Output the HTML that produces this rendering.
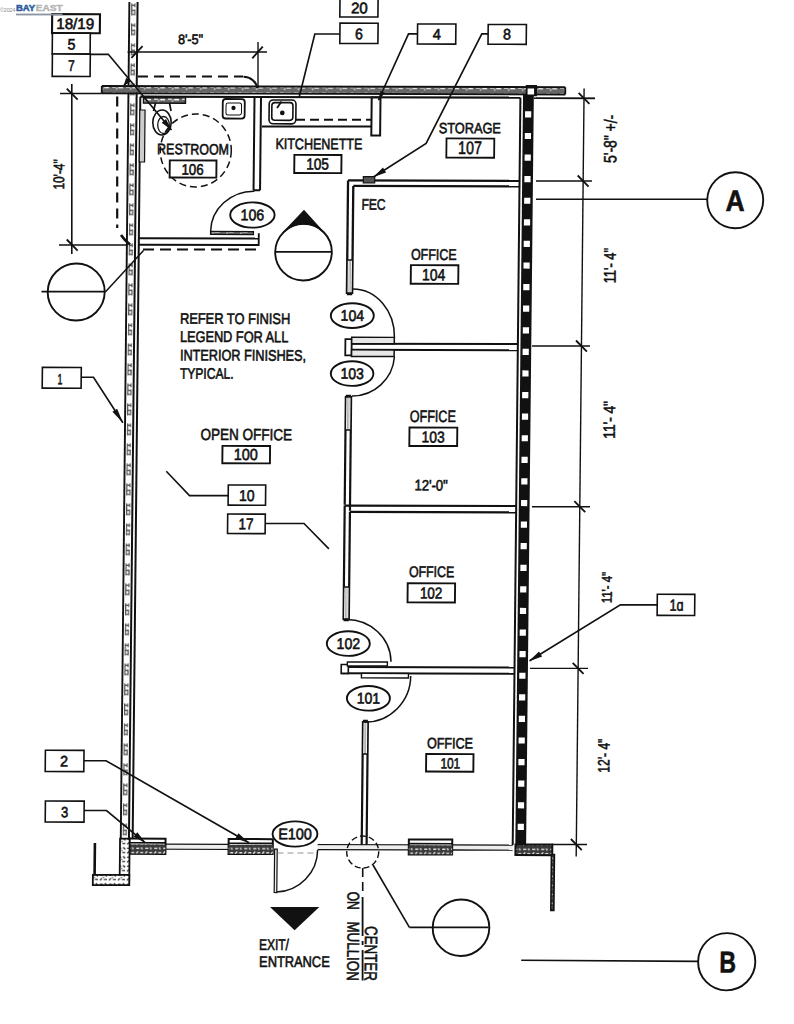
<!DOCTYPE html>
<html><head><meta charset="utf-8"><style>
html,body{margin:0;padding:0;background:#fff;}
svg{display:block;}
text{font-family:"Liberation Sans",sans-serif;}
</style></head><body>
<svg width="794" height="1024" viewBox="0 0 794 1024" font-family="Liberation Sans, sans-serif">
<defs>
<pattern id="stud" x="130.4" y="0" width="6.2" height="20" patternUnits="userSpaceOnUse"><rect width="6.2" height="20" fill="#fff"/><path d="M1.5 3v12M4.5 3v4M4.5 9v6M1.5 5h3M1.5 10h3M1.5 14h3" stroke="#555" stroke-width="1.2" fill="none"/></pattern>
<pattern id="band" width="14" height="6" patternUnits="userSpaceOnUse"><rect width="14" height="6" fill="#666"/><path d="M1 2.5h4M7 3h5M5 4.5h1" stroke="#fff" stroke-width="1.6" fill="none"/></pattern>
<pattern id="conc" width="9" height="9" patternUnits="userSpaceOnUse"><rect width="9" height="9" fill="#3a3a3a"/><path d="M1 2h3M5 6h3M1 7l2-2M6 1l1 2" stroke="#e8e8e8" stroke-width="1.3" fill="none"/></pattern>
<pattern id="conc2" width="9" height="9" patternUnits="userSpaceOnUse"><rect width="9" height="9" fill="#fff"/><path d="M1 2h3M5 6h3M1 7l2-2M6 1l2 2M4 4h1" stroke="#333" stroke-width="1.4" fill="none"/></pattern>
</defs>
<rect width="794" height="1024" fill="#fff"/>
<g transform="matrix(1 0.0027 -0.0103 1 0 0)">
<rect x="130.2" y="1.7" width="6.5" height="883" fill="url(#stud)" stroke="none" stroke-width="0" />
<line x1="129.4" y1="1.7" x2="129.4" y2="884.7" stroke="#111" stroke-width="1.9" />
<line x1="137.6" y1="1.7" x2="137.6" y2="838.5" stroke="#111" stroke-width="2.0" />
<line x1="141.3" y1="96.4" x2="141.3" y2="838.5" stroke="#111" stroke-width="2.0" />
<rect x="102.7" y="86.5" width="463.5" height="5.6" fill="url(#band)" stroke="none" stroke-width="0" />
<line x1="102.7" y1="85.7" x2="566.2" y2="85.7" stroke="#111" stroke-width="2.0" />
<line x1="102.7" y1="92.9" x2="566.2" y2="92.9" stroke="#111" stroke-width="1.9" />
<line x1="102.7" y1="85.7" x2="102.7" y2="92.9" stroke="#111" stroke-width="1.8" />
<line x1="566.2" y1="85.7" x2="566.2" y2="92.9" stroke="#111" stroke-width="1.8" />
<line x1="61" y1="93.3" x2="102.7" y2="93.3" stroke="#111" stroke-width="1.5" />
<line x1="141.3" y1="96.3" x2="521.4" y2="96.3" stroke="#111" stroke-width="2.2" />
<line x1="535" y1="96.8" x2="595.8" y2="96.8" stroke="#111" stroke-width="1.5" />
<rect x="524" y="93" width="10.8" height="750.5" fill="#111" stroke="none" stroke-width="0" />
<rect x="526.6" y="83.6" width="11.3" height="11.2" fill="#111" stroke="none" stroke-width="0" />
<line x1="521.4" y1="96.4" x2="521.4" y2="843.5" stroke="#111" stroke-width="2.0" />
<rect x="528.5" y="87.18" width="6.5" height="6" fill="#fff" stroke="none" stroke-width="0" />
<rect x="526.2" y="109.87" width="6.2" height="6.2" fill="#fff" stroke="none" stroke-width="0" />
<rect x="526.2" y="131.46" width="6.2" height="6.2" fill="#fff" stroke="none" stroke-width="0" />
<rect x="526.2" y="153.05" width="6.2" height="6.2" fill="#fff" stroke="none" stroke-width="0" />
<rect x="526.2" y="174.64" width="6.2" height="6.2" fill="#fff" stroke="none" stroke-width="0" />
<rect x="526.2" y="196.23" width="6.2" height="6.2" fill="#fff" stroke="none" stroke-width="0" />
<rect x="526.2" y="217.82" width="6.2" height="6.2" fill="#fff" stroke="none" stroke-width="0" />
<rect x="526.2" y="239.41" width="6.2" height="6.2" fill="#fff" stroke="none" stroke-width="0" />
<rect x="526.2" y="261" width="6.2" height="6.2" fill="#fff" stroke="none" stroke-width="0" />
<rect x="526.2" y="282.59" width="6.2" height="6.2" fill="#fff" stroke="none" stroke-width="0" />
<rect x="526.2" y="304.18" width="6.2" height="6.2" fill="#fff" stroke="none" stroke-width="0" />
<rect x="526.2" y="325.77" width="6.2" height="6.2" fill="#fff" stroke="none" stroke-width="0" />
<rect x="526.2" y="347.36" width="6.2" height="6.2" fill="#fff" stroke="none" stroke-width="0" />
<rect x="526.2" y="368.95" width="6.2" height="6.2" fill="#fff" stroke="none" stroke-width="0" />
<rect x="526.2" y="390.54" width="6.2" height="6.2" fill="#fff" stroke="none" stroke-width="0" />
<rect x="526.2" y="412.13" width="6.2" height="6.2" fill="#fff" stroke="none" stroke-width="0" />
<rect x="526.2" y="433.72" width="6.2" height="6.2" fill="#fff" stroke="none" stroke-width="0" />
<rect x="526.2" y="455.31" width="6.2" height="6.2" fill="#fff" stroke="none" stroke-width="0" />
<rect x="526.2" y="476.9" width="6.2" height="6.2" fill="#fff" stroke="none" stroke-width="0" />
<rect x="526.2" y="498.49" width="6.2" height="6.2" fill="#fff" stroke="none" stroke-width="0" />
<rect x="526.2" y="520.08" width="6.2" height="6.2" fill="#fff" stroke="none" stroke-width="0" />
<rect x="526.2" y="541.67" width="6.2" height="6.2" fill="#fff" stroke="none" stroke-width="0" />
<rect x="526.2" y="563.26" width="6.2" height="6.2" fill="#fff" stroke="none" stroke-width="0" />
<rect x="526.2" y="584.85" width="6.2" height="6.2" fill="#fff" stroke="none" stroke-width="0" />
<rect x="526.2" y="606.44" width="6.2" height="6.2" fill="#fff" stroke="none" stroke-width="0" />
<rect x="526.2" y="628.03" width="6.2" height="6.2" fill="#fff" stroke="none" stroke-width="0" />
<rect x="526.2" y="649.62" width="6.2" height="6.2" fill="#fff" stroke="none" stroke-width="0" />
<rect x="526.2" y="671.21" width="6.2" height="6.2" fill="#fff" stroke="none" stroke-width="0" />
<rect x="526.2" y="692.8" width="6.2" height="6.2" fill="#fff" stroke="none" stroke-width="0" />
<rect x="526.2" y="714.39" width="6.2" height="6.2" fill="#fff" stroke="none" stroke-width="0" />
<rect x="526.2" y="735.98" width="6.2" height="6.2" fill="#fff" stroke="none" stroke-width="0" />
<rect x="526.2" y="757.57" width="6.2" height="6.2" fill="#fff" stroke="none" stroke-width="0" />
<rect x="526.2" y="779.16" width="6.2" height="6.2" fill="#fff" stroke="none" stroke-width="0" />
<rect x="526.2" y="800.75" width="6.2" height="6.2" fill="#fff" stroke="none" stroke-width="0" />
<rect x="526.2" y="822.34" width="6.2" height="6.2" fill="#fff" stroke="none" stroke-width="0" />
<line x1="174.2" y1="843.8" x2="237.3" y2="843.8" stroke="#111" stroke-width="1.6" />
<line x1="174.2" y1="848.6" x2="237.3" y2="848.6" stroke="#111" stroke-width="1.6" />
<rect x="174.2" y="844.4" width="63.1" height="3.6" fill="#eee" stroke="none" stroke-width="0" />
<line x1="326.4" y1="843.8" x2="417.5" y2="843.8" stroke="#111" stroke-width="1.6" />
<line x1="326.4" y1="848.6" x2="417.5" y2="848.6" stroke="#111" stroke-width="1.6" />
<rect x="326.4" y="844.4" width="91.1" height="3.6" fill="#eee" stroke="none" stroke-width="0" />
<line x1="460.9" y1="843.8" x2="521.4" y2="843.8" stroke="#111" stroke-width="1.6" />
<line x1="460.9" y1="848.6" x2="521.4" y2="848.6" stroke="#111" stroke-width="1.6" />
<rect x="460.9" y="844.4" width="60.5" height="3.6" fill="#eee" stroke="none" stroke-width="0" />
<rect x="137.9" y="838.2" width="36.3" height="15.3" fill="#fff" stroke="#111" stroke-width="2.0" />
<rect x="137.9" y="843.8" width="36.3" height="9.7" fill="url(#conc)" stroke="none" stroke-width="0" />
<line x1="137.9" y1="842.4" x2="174.2" y2="842.4" stroke="#111" stroke-width="1.7" />
<rect x="237.3" y="838.4" width="44.2" height="14.9" fill="#fff" stroke="#111" stroke-width="2.0" />
<rect x="237.3" y="844" width="44.2" height="9.3" fill="url(#conc)" stroke="none" stroke-width="0" />
<line x1="237.3" y1="842.6" x2="281.5" y2="842.6" stroke="#111" stroke-width="1.7" />
<rect x="417.5" y="838.3" width="43.4" height="15" fill="#fff" stroke="#111" stroke-width="2.0" />
<rect x="417.5" y="843.9" width="43.4" height="9.4" fill="url(#conc)" stroke="none" stroke-width="0" />
<line x1="417.5" y1="842.5" x2="460.9" y2="842.5" stroke="#111" stroke-width="1.7" />
<rect x="524.2" y="843.1" width="36.8" height="10.6" fill="url(#conc)" stroke="#111" stroke-width="2.0" />
<rect x="560.2" y="853" width="3" height="56" fill="url(#conc)" stroke="#111" stroke-width="1.6" />
<rect x="128.7" y="838.2" width="9.6" height="46.5" fill="url(#conc2)" stroke="#111" stroke-width="1.8" />
<rect x="101.9" y="874.6" width="36.4" height="10.2" fill="url(#conc2)" stroke="#111" stroke-width="1.8" />
<line x1="103.6" y1="842.8" x2="103.6" y2="875" stroke="#111" stroke-width="2.6" />
<line x1="255.5" y1="96.4" x2="255.5" y2="189.5" stroke="#111" stroke-width="2.0" />
<line x1="262" y1="96.4" x2="262" y2="189.5" stroke="#111" stroke-width="2.0" />
<line x1="255.5" y1="189.5" x2="262" y2="189.5" stroke="#111" stroke-width="2.0" />
<line x1="141.3" y1="237.9" x2="261.2" y2="237.9" stroke="#111" stroke-width="2.0" />
<line x1="141.3" y1="244.4" x2="261.2" y2="244.4" stroke="#111" stroke-width="2.0" />
<line x1="261.2" y1="232.5" x2="261.2" y2="245.4" stroke="#111" stroke-width="1.8" />
<rect x="213" y="230.87" width="42.8" height="3" fill="url(#band)" stroke="#111" stroke-width="1.3" />
<path d="M212.98,230.93 A43,40.5 0 0 1 256.37,190.51" fill="none" stroke="#111" stroke-width="1.5"/>
<rect x="372.7" y="96.59" width="8.8" height="37.9" fill="#fff" stroke="#111" stroke-width="2.0" />
<line x1="349.9" y1="179.5" x2="521.4" y2="179.5" stroke="#111" stroke-width="2.3" />
<line x1="355.2" y1="185" x2="521.4" y2="185" stroke="#111" stroke-width="2.3" />
<line x1="349.9" y1="179.5" x2="349.9" y2="293" stroke="#111" stroke-width="2.3" />
<line x1="355.2" y1="185" x2="355.2" y2="293" stroke="#111" stroke-width="2.3" />
<line x1="349.9" y1="293" x2="355.2" y2="293" stroke="#111" stroke-width="2.6" />
<line x1="355.2" y1="342.7" x2="521.4" y2="342.7" stroke="#111" stroke-width="2.0" />
<line x1="355.2" y1="348.9" x2="521.4" y2="348.9" stroke="#111" stroke-width="2.0" />
<rect x="348.9" y="338.1" width="6.3" height="16.4" fill="#fff" stroke="#111" stroke-width="1.8" />
<rect x="355.2" y="336.3" width="42.6" height="6.4" fill="#e6e6e6" stroke="#111" stroke-width="1.5" />
<rect x="355.2" y="348.9" width="42.6" height="6.6" fill="#e6e6e6" stroke="#111" stroke-width="1.5" />
<line x1="349.9" y1="395" x2="349.9" y2="503.8" stroke="#111" stroke-width="2.2" />
<line x1="355.2" y1="395" x2="355.2" y2="509.8" stroke="#111" stroke-width="2.2" />
<line x1="349.9" y1="395" x2="355.2" y2="395" stroke="#111" stroke-width="2.6" />
<line x1="349.9" y1="504.6" x2="521.4" y2="504.6" stroke="#111" stroke-width="2.2" />
<line x1="355.2" y1="510.9" x2="521.4" y2="510.9" stroke="#111" stroke-width="2.2" />
<line x1="349.9" y1="504.6" x2="349.9" y2="619" stroke="#111" stroke-width="2.2" />
<line x1="355.2" y1="510.9" x2="355.2" y2="619" stroke="#111" stroke-width="2.2" />
<line x1="349.9" y1="619" x2="355.2" y2="619" stroke="#111" stroke-width="2.6" />
<line x1="355.2" y1="666" x2="521.4" y2="666" stroke="#111" stroke-width="2.0" />
<line x1="348.1" y1="672.4" x2="521.4" y2="672.4" stroke="#111" stroke-width="2.0" />
<rect x="348.1" y="663.5" width="7.1" height="8.9" fill="#fff" stroke="#111" stroke-width="1.6" />
<rect x="354.2" y="661" width="40" height="4" fill="#fff" stroke="#111" stroke-width="1.4" />
<rect x="368.4" y="672.4" width="47" height="4.5" fill="#fff" stroke="#111" stroke-width="1.4" />
<line x1="370.4" y1="720" x2="370.4" y2="843.8" stroke="#111" stroke-width="2.2" />
<line x1="375.3" y1="720" x2="375.3" y2="843.8" stroke="#111" stroke-width="2.2" />
<line x1="370.4" y1="720" x2="375.3" y2="720" stroke="#111" stroke-width="2.6" />
<rect x="350.5" y="259" width="4.1" height="33" fill="#fff" stroke="none" stroke-width="0" />
<line x1="351.9" y1="259" x2="351.9" y2="292" stroke="#999" stroke-width="0.8" />
<line x1="353.2" y1="259" x2="353.2" y2="292" stroke="#999" stroke-width="0.8" />
<line x1="349.9" y1="259" x2="355.2" y2="259" stroke="#111" stroke-width="1.6" />
<line x1="349.9" y1="292" x2="355.2" y2="292" stroke="#111" stroke-width="1.6" />
<rect x="350.5" y="396" width="4.1" height="33" fill="#fff" stroke="none" stroke-width="0" />
<line x1="351.9" y1="396" x2="351.9" y2="429" stroke="#999" stroke-width="0.8" />
<line x1="353.2" y1="396" x2="353.2" y2="429" stroke="#999" stroke-width="0.8" />
<line x1="349.9" y1="396" x2="355.2" y2="396" stroke="#111" stroke-width="1.6" />
<line x1="349.9" y1="429" x2="355.2" y2="429" stroke="#111" stroke-width="1.6" />
<rect x="350.5" y="586" width="4.1" height="32" fill="#fff" stroke="none" stroke-width="0" />
<line x1="351.9" y1="586" x2="351.9" y2="618" stroke="#999" stroke-width="0.8" />
<line x1="353.2" y1="586" x2="353.2" y2="618" stroke="#999" stroke-width="0.8" />
<line x1="349.9" y1="586" x2="355.2" y2="586" stroke="#111" stroke-width="1.6" />
<line x1="349.9" y1="618" x2="355.2" y2="618" stroke="#111" stroke-width="1.6" />
<rect x="371" y="721" width="3.7" height="32" fill="#fff" stroke="none" stroke-width="0" />
<line x1="372.4" y1="721" x2="372.4" y2="753" stroke="#999" stroke-width="0.8" />
<line x1="373.3" y1="721" x2="373.3" y2="753" stroke="#999" stroke-width="0.8" />
<line x1="370.4" y1="721" x2="375.3" y2="721" stroke="#111" stroke-width="1.6" />
<line x1="370.4" y1="753" x2="375.3" y2="753" stroke="#111" stroke-width="1.6" />
<path d="M355.98,288.05 A42,48 0 0 1 397.88,336.44" fill="none" stroke="#111" stroke-width="1.5"/>
<path d="M398.08,355.94 A42,42 0 0 1 355.98,395.05" fill="none" stroke="#111" stroke-width="1.5"/>
<path d="M351.88,618.57 A45,43 0 0 1 397.82,660.64" fill="none" stroke="#111" stroke-width="1.5"/>
<path d="M417.66,674.89 A45,46 0 0 1 372.44,721.01" fill="none" stroke="#111" stroke-width="1.5"/>
<path d="M285.69,891.25 A42,42 0 0 0 326.36,849.14" fill="none" stroke="#111" stroke-width="1.5"/>
<rect x="283.37" y="848.26" width="2.6" height="43.5" fill="#eee" stroke="#111" stroke-width="1.2" />
<line x1="286.29" y1="852.25" x2="325.79" y2="852.14" stroke="#888" stroke-width="0.9" stroke-dasharray="6 4"/>
<rect x="140.9" y="109.62" width="5.3" height="52" fill="#ccc" stroke="#111" stroke-width="1.2" />
<rect x="144.54" y="97.36" width="42" height="5.4" fill="url(#band)" stroke="#111" stroke-width="1.4" />
<polyline points="156.56,102.58 154.64,110.59" fill="none" stroke="#111" stroke-width="1.65" />
<polyline points="170.56,102.54 172.14,110.54" fill="none" stroke="#111" stroke-width="1.65" />
<ellipse cx="163.26" cy="122.06" rx="9.2" ry="12.5" fill="none" stroke="#111" stroke-width="1.6" />
<ellipse cx="164.79" cy="124.56" rx="5.8" ry="8.5" fill="none" stroke="#111" stroke-width="1.3" />
<ellipse cx="197.35" cy="149.97" rx="35.5" ry="36.5" fill="none" stroke="#111" stroke-width="1.5" stroke-dasharray="7 4"/>
<rect x="223.82" y="98.37" width="22" height="19.5" fill="#fff" stroke="#111" stroke-width="1.8" rx="3"/>
<rect x="227.12" y="102.37" width="15.5" height="12" fill="none" stroke="#111" stroke-width="1.0" rx="2"/>
<ellipse cx="234.61" cy="107.37" rx="1.4" ry="1.4" fill="#111" stroke="#111" stroke-width="1.5" />
<rect x="270.25" y="99.24" width="26.8" height="23.8" fill="#fff" stroke="#111" stroke-width="1.6" rx="4"/>
<rect x="272.95" y="101.84" width="21.1" height="17.7" fill="none" stroke="#111" stroke-width="1.6" rx="3"/>
<ellipse cx="283.46" cy="112.14" rx="1.6" ry="1.6" fill="#111" stroke="#111" stroke-width="1.5" />
<line x1="278.11" y1="107.25" x2="282.55" y2="100.74" stroke="#111" stroke-width="1.8" />
<line x1="263.3" y1="125.69" x2="373.3" y2="125.4" stroke="#111" stroke-width="2.0" />
<line x1="297.23" y1="118.9" x2="372.73" y2="118.7" stroke="#111" stroke-width="2.0" stroke-dasharray="9 5"/>
<polyline points="138.79,76.13 243.79,75.84" fill="none" stroke="#111" stroke-width="2.0" stroke-dasharray="10 6"/>
<path d="M244.29,76.14 A14,12 0 0 1 257.91,87.31" fill="none" stroke="#111" stroke-width="2.0"/>
<line x1="118.19" y1="96.18" x2="119.55" y2="227.68" stroke="#111" stroke-width="2.2" stroke-dasharray="10 6"/>
<path d="M123.42,234.67 Q126.42,239.25 132.52,244.25" fill="none" stroke="#111" stroke-width="2.6"/>
<line x1="145.57" y1="249.21" x2="263.57" y2="248.9" stroke="#111" stroke-width="2.0" stroke-dasharray="11 6"/>
<rect x="365.15" y="175.7" width="11.4" height="6.1" fill="#555" stroke="#111" stroke-width="1.2" />
<line x1="128.04" y1="51.66" x2="267.54" y2="51.28" stroke="#111" stroke-width="1.6" />
<line x1="258.43" y1="41.3" x2="258.91" y2="87.3" stroke="#111" stroke-width="1.4000000000000001" />
<line x1="132.04" y1="57.43" x2="143.04" y2="45.83" stroke="#111" stroke-width="1.8" />
<line x1="252.84" y1="57.6" x2="263.24" y2="46" stroke="#111" stroke-width="1.8" />
<text x="178.35" y="43.49" font-size="13.66" textLength="25.2" lengthAdjust="spacingAndGlyphs" font-weight="normal" fill="#111" stroke="#111" stroke-width="0.6">8'-5&quot;</text>
<line x1="72.67" y1="83.81" x2="74.42" y2="253.81" stroke="#111" stroke-width="1.6" />
<line x1="61.52" y1="244.84" x2="130.52" y2="244.65" stroke="#111" stroke-width="1.5" />
<line x1="67.67" y1="88.51" x2="78.67" y2="99.51" stroke="#111" stroke-width="1.8" />
<line x1="69.22" y1="239.31" x2="80.22" y2="250.31" stroke="#111" stroke-width="1.8" />
<text transform="translate(65.95,189.43) rotate(-90)" x="0" y="0" font-size="15.26" textLength="30.3" lengthAdjust="spacingAndGlyphs" fill="#111" stroke="#111" stroke-width="0.6">10'-4&quot;</text>
<line x1="585" y1="87" x2="585" y2="855" stroke="#111" stroke-width="1.4000000000000001" />
<line x1="537.01" y1="96.85" x2="596.01" y2="96.69" stroke="#111" stroke-width="1.4000000000000001" />
<line x1="579.5" y1="91.22" x2="590.5" y2="102.22" stroke="#111" stroke-width="1.8" />
<line x1="537.86" y1="179.55" x2="593.86" y2="179.4" stroke="#111" stroke-width="1.4000000000000001" />
<line x1="579.5" y1="173.93" x2="590.5" y2="184.93" stroke="#111" stroke-width="1.8" />
<line x1="535.56" y1="344.56" x2="593.56" y2="344.41" stroke="#111" stroke-width="1.4000000000000001" />
<line x1="579.5" y1="338.93" x2="590.5" y2="349.93" stroke="#111" stroke-width="1.8" />
<line x1="537.22" y1="505.26" x2="595.22" y2="505.11" stroke="#111" stroke-width="1.4000000000000001" />
<line x1="579.5" y1="499.63" x2="590.5" y2="510.63" stroke="#111" stroke-width="1.8" />
<line x1="536.88" y1="666.97" x2="594.88" y2="666.81" stroke="#111" stroke-width="1.4000000000000001" />
<line x1="579.5" y1="661.34" x2="590.5" y2="672.34" stroke="#111" stroke-width="1.8" />
<line x1="560.7" y1="843.01" x2="595.7" y2="842.92" stroke="#111" stroke-width="1.4000000000000001" />
<line x1="579.5" y1="837.44" x2="590.5" y2="848.44" stroke="#111" stroke-width="1.8" />
<text transform="translate(617.88,161.34) rotate(-90)" x="0" y="0" font-size="17.73" textLength="48.2" lengthAdjust="spacingAndGlyphs" fill="#111" stroke="#111" stroke-width="0.6">5'-8&quot; +/-</text>
<text transform="translate(618.42,281.64) rotate(-90)" x="0" y="0" font-size="16.72" textLength="35.3" lengthAdjust="spacingAndGlyphs" fill="#111" stroke="#111" stroke-width="0.6">11'- 4&quot;</text>
<text transform="translate(619.22,437.04) rotate(-90)" x="0" y="0" font-size="16.28" textLength="37.7" lengthAdjust="spacingAndGlyphs" fill="#111" stroke="#111" stroke-width="0.6">11'- 4&quot;</text>
<text transform="translate(617.81,601.65) rotate(-90)" x="0" y="0" font-size="14.1" textLength="31.4" lengthAdjust="spacingAndGlyphs" fill="#111" stroke="#111" stroke-width="0.6">11'- 4&quot;</text>
<text transform="translate(617.16,770.96) rotate(-90)" x="0" y="0" font-size="16.28" textLength="34" lengthAdjust="spacingAndGlyphs" fill="#111" stroke="#111" stroke-width="0.6">12'- 4&quot;</text>
<text x="419.45" y="489.24" font-size="15.12" textLength="33.3" lengthAdjust="spacingAndGlyphs" font-weight="normal" fill="#111" stroke="#111" stroke-width="0.6">12'-0&quot;</text>
<line x1="538.05" y1="197.75" x2="709.45" y2="197.29" stroke="#111" stroke-width="1.6" />
<ellipse cx="737.26" cy="198.21" rx="28" ry="28" fill="none" stroke="#111" stroke-width="1.9" />
<text x="727.67" y="209.02" font-size="29.8" textLength="19.1" lengthAdjust="spacingAndGlyphs" font-weight="bold" fill="#111" stroke="#111" stroke-width="0.6">A</text>
<line x1="531.09" y1="958.89" x2="707.9" y2="959.42" stroke="#111" stroke-width="1.6" />
<ellipse cx="736.61" cy="959.74" rx="28.6" ry="28.6" fill="none" stroke="#111" stroke-width="1.9" />
<text x="729.32" y="970.64" font-size="30.23" textLength="16.7" lengthAdjust="spacingAndGlyphs" font-weight="bold" fill="#111" stroke="#111" stroke-width="0.6">B</text>
<ellipse cx="79.21" cy="291.79" rx="28.5" ry="28.5" fill="none" stroke="#111" stroke-width="1.9" />
<line x1="44.5" y1="291.49" x2="108.8" y2="291.31" stroke="#111" stroke-width="1.7" />
<line x1="108.8" y1="291.31" x2="146.08" y2="250.11" stroke="#111" stroke-width="1.5" />
<ellipse cx="306.1" cy="251.38" rx="28.3" ry="28.3" fill="none" stroke="#111" stroke-width="1.9" />
<line x1="278.09" y1="251.16" x2="334.09" y2="251" stroke="#111" stroke-width="1.8" />
<path d="M306.17,209.78 L326.64,232.07 A28.3,28.3 0 0 0 285.16,232.19 Z" fill="#111" stroke="#111" stroke-width="1"/>
<ellipse cx="470.56" cy="926.46" rx="28.3" ry="28.3" fill="none" stroke="#111" stroke-width="1.9" />
<line x1="418.95" y1="926.29" x2="498.15" y2="926.08" stroke="#111" stroke-width="1.7" />
<line x1="381.91" y1="863.99" x2="418.95" y2="926.29" stroke="#111" stroke-width="1.6" />
<ellipse cx="371.48" cy="851.02" rx="16" ry="16" fill="none" stroke="#111" stroke-width="1.4" stroke-dasharray="6 3"/>
<line x1="371.64" y1="867.02" x2="371.92" y2="894.02" stroke="#111" stroke-width="1.6" stroke-dasharray="9 5"/>
<line x1="371.84" y1="896.02" x2="372.24" y2="935.02" stroke="#111" stroke-width="1.8" />
<line x1="372.29" y1="940.02" x2="372.33" y2="944.02" stroke="#111" stroke-width="1.8" />
<line x1="372.39" y1="949.02" x2="372.7" y2="979.52" stroke="#111" stroke-width="1.8" />
<polygon points="279.34,906.17 328.64,906.04 304.18,929.5" fill="#111"/>
<rect x="52.34" y="13.99" width="47.8" height="19" fill="#fff" stroke="#111" stroke-width="2.1" />
<text x="56.6" y="28.8" font-size="15.12" textLength="37.8" lengthAdjust="spacingAndGlyphs" font-weight="normal" fill="#111" stroke="#111" stroke-width="0.6">18/19</text>
<rect x="52.75" y="33.01" width="37.9" height="20.9" fill="#fff" stroke="#111" stroke-width="1.6" />
<text x="68.01" y="49.31" font-size="15.26" textLength="7.9" lengthAdjust="spacingAndGlyphs" font-weight="normal" fill="#111" stroke="#111" stroke-width="0.6">5</text>
<rect x="52.97" y="53.91" width="37.9" height="22.3" fill="#fff" stroke="#111" stroke-width="1.6" />
<text x="68.63" y="70.81" font-size="15.41" textLength="6.6" lengthAdjust="spacingAndGlyphs" font-weight="normal" fill="#111" stroke="#111" stroke-width="0.6">7</text>
<rect x="339.98" y="-2.97" width="38.1" height="19" fill="#fff" stroke="#111" stroke-width="1.6" />
<text x="351.04" y="12.33" font-size="15.26" textLength="16.8" lengthAdjust="spacingAndGlyphs" font-weight="normal" fill="#111" stroke="#111" stroke-width="0.6">20</text>
<rect x="340.24" y="22.23" width="38.1" height="20.3" fill="#fff" stroke="#111" stroke-width="1.6" />
<text x="355.4" y="38.33" font-size="15.26" textLength="7.8" lengthAdjust="spacingAndGlyphs" font-weight="normal" fill="#111" stroke="#111" stroke-width="0.6">6</text>
<rect x="417.85" y="22.82" width="38.3" height="20.1" fill="#fff" stroke="#111" stroke-width="1.6" />
<text x="433.21" y="38.32" font-size="15.26" textLength="8.1" lengthAdjust="spacingAndGlyphs" font-weight="normal" fill="#111" stroke="#111" stroke-width="0.6">4</text>
<rect x="488.45" y="23.13" width="38.2" height="19.8" fill="#fff" stroke="#111" stroke-width="1.6" />
<text x="503.41" y="38.13" font-size="15.26" textLength="7.9" lengthAdjust="spacingAndGlyphs" font-weight="normal" fill="#111" stroke="#111" stroke-width="0.6">8</text>
<rect x="46.19" y="367.23" width="38.9" height="20.8" fill="#fff" stroke="#111" stroke-width="1.6" />
<text x="61.36" y="384.04" font-size="14.83" textLength="4.9" lengthAdjust="spacingAndGlyphs" font-weight="normal" fill="#111" stroke="#111" stroke-width="0.6">1</text>
<rect x="53.14" y="750.13" width="38.6" height="21.2" fill="#fff" stroke="#111" stroke-width="1.6" />
<text x="67.9" y="766.43" font-size="15.26" textLength="8" lengthAdjust="spacingAndGlyphs" font-weight="normal" fill="#111" stroke="#111" stroke-width="0.6">2</text>
<rect x="53.66" y="800.83" width="38.8" height="21" fill="#fff" stroke="#111" stroke-width="1.6" />
<text x="69.32" y="817.03" font-size="14.83" textLength="7.2" lengthAdjust="spacingAndGlyphs" font-weight="normal" fill="#111" stroke="#111" stroke-width="0.6">3</text>
<rect x="233.3" y="484.33" width="37.4" height="20.2" fill="#fff" stroke="#111" stroke-width="1.6" />
<text x="244.26" y="500.33" font-size="15.7" textLength="15.5" lengthAdjust="spacingAndGlyphs" font-weight="normal" fill="#111" stroke="#111" stroke-width="0.6">10</text>
<rect x="233" y="513.43" width="37.6" height="19.5" fill="#fff" stroke="#111" stroke-width="1.6" />
<text x="244.05" y="528.64" font-size="15.41" textLength="14.8" lengthAdjust="spacingAndGlyphs" font-weight="normal" fill="#111" stroke="#111" stroke-width="0.6">17</text>
<rect x="663.43" y="592.47" width="37.5" height="21.1" fill="#fff" stroke="#111" stroke-width="1.6" />
<text x="675.89" y="608.97" font-size="16.28" textLength="14" lengthAdjust="spacingAndGlyphs" font-weight="normal" fill="#111" stroke="#111" stroke-width="0.6">1ɑ</text>
<polyline points="90.86,54.06 108.86,54.01 172.84,129.54" fill="none" stroke="#111" stroke-width="1.65" />
<polygon points="172.84,129.54 162.95,122.19 167.22,118.57" fill="#111"/>
<polyline points="129.32,79.15 124.88,85.17" fill="none" stroke="#111" stroke-width="1.65" />
<polygon points="124.39,85.67 126.98,77.53 131.69,81.24" fill="#111"/>
<polyline points="340.25,33.08 315.15,33.15 300.2,96.19" fill="none" stroke="#111" stroke-width="1.65" />
<polyline points="417.85,32.77 408.85,32.8 379.53,98.98" fill="none" stroke="#111" stroke-width="1.65" />
<polygon points="379.54,99.98 381.3,89.85 385.71,91.75" fill="#111"/>
<polyline points="488.45,32.58 482.15,32.6 427.58,142.25 375.32,175.99" fill="none" stroke="#111" stroke-width="1.65" />
<polygon points="375.32,175.99 384.62,166.42 387.87,171.46" fill="#111"/>
<polyline points="85.09,376.98 97.39,376.95 127.25,422.37" fill="none" stroke="#111" stroke-width="1.65" />
<polygon points="127.25,422.37 116.67,411.37 121.35,408.3" fill="#111"/>
<polyline points="233.3,494.98 194.6,495.09 171.15,470.85" fill="none" stroke="#111" stroke-width="1.55" />
<polyline points="270.59,522.78 309.39,522.68 334.55,548.01" fill="none" stroke="#111" stroke-width="1.55" />
<polyline points="663.43,603.03 626.63,603.12 536.41,659.27" fill="none" stroke="#111" stroke-width="1.65" />
<polygon points="535.41,659.97 545.72,650.04 548.89,655.14" fill="#111"/>
<polyline points="91.74,760.47 113.84,760.41 257.68,842.13" fill="none" stroke="#111" stroke-width="1.65" />
<polygon points="257.68,842.13 244.03,837.82 246.99,832.6" fill="#111"/>
<polyline points="92.45,810.27 114.85,810.21 154.08,842.41" fill="none" stroke="#111" stroke-width="1.65" />
<polygon points="154.08,842.41 142.13,836.48 145.93,831.84" fill="#111"/>
<text x="158.69" y="153.88" font-size="15.12" textLength="71.9" lengthAdjust="spacingAndGlyphs" font-weight="normal" fill="#111" stroke="#111" stroke-width="0.6">RESTROOM</text>
<rect x="171.44" y="159.88" width="46.7" height="17.2" fill="#fff" stroke="#111" stroke-width="1.9" />
<text x="183.2" y="174.28" font-size="15.26" textLength="22.1" lengthAdjust="spacingAndGlyphs" font-weight="normal" fill="#111" stroke="#111" stroke-width="0.6">106</text>
<text x="276.94" y="148.34" font-size="15.26" textLength="86.9" lengthAdjust="spacingAndGlyphs" font-weight="normal" fill="#111" stroke="#111" stroke-width="0.6">KITCHENETTE</text>
<rect x="295.99" y="154.04" width="47.1" height="18.2" fill="#fff" stroke="#111" stroke-width="1.9" />
<text x="307.95" y="168.74" font-size="15.84" textLength="22.7" lengthAdjust="spacingAndGlyphs" font-weight="normal" fill="#111" stroke="#111" stroke-width="0.6">105</text>
<text x="440.17" y="132.03" font-size="14.97" textLength="62" lengthAdjust="spacingAndGlyphs" font-weight="normal" fill="#111" stroke="#111" stroke-width="0.6">STORAGE</text>
<rect x="447.93" y="137.23" width="47.8" height="19.2" fill="#fff" stroke="#111" stroke-width="1.8" />
<text x="459.69" y="152.73" font-size="18.02" textLength="23.7" lengthAdjust="spacingAndGlyphs" font-weight="normal" fill="#111" stroke="#111" stroke-width="0.6">107</text>
<text x="363.56" y="208.79" font-size="15.41" textLength="24.2" lengthAdjust="spacingAndGlyphs" font-weight="normal" fill="#111" stroke="#111" stroke-width="0.6">FEC</text>
<text x="413.58" y="258.73" font-size="15.55" textLength="45.7" lengthAdjust="spacingAndGlyphs" font-weight="normal" fill="#111" stroke="#111" stroke-width="0.6">OFFICE</text>
<rect x="413.63" y="264.03" width="47.5" height="18.6" fill="#fff" stroke="#111" stroke-width="1.9" />
<text x="424.89" y="279.23" font-size="16.28" textLength="23.2" lengthAdjust="spacingAndGlyphs" font-weight="normal" fill="#111" stroke="#111" stroke-width="0.6">104</text>
<text x="414.05" y="420.83" font-size="16.57" textLength="46.1" lengthAdjust="spacingAndGlyphs" font-weight="normal" fill="#111" stroke="#111" stroke-width="0.6">OFFICE</text>
<rect x="413.9" y="426.43" width="47.8" height="18.4" fill="#fff" stroke="#111" stroke-width="1.9" />
<text x="426.16" y="441.23" font-size="15.7" textLength="23" lengthAdjust="spacingAndGlyphs" font-weight="normal" fill="#111" stroke="#111" stroke-width="0.6">103</text>
<text x="414.84" y="575.93" font-size="15.41" textLength="45.3" lengthAdjust="spacingAndGlyphs" font-weight="normal" fill="#111" stroke="#111" stroke-width="0.6">OFFICE</text>
<rect x="413.71" y="582.14" width="47.4" height="19.1" fill="#fff" stroke="#111" stroke-width="1.9" />
<text x="426.06" y="597.24" font-size="15.84" textLength="22.4" lengthAdjust="spacingAndGlyphs" font-weight="normal" fill="#111" stroke="#111" stroke-width="0.6">102</text>
<text x="434.61" y="747.19" font-size="15.12" textLength="46.1" lengthAdjust="spacingAndGlyphs" font-weight="normal" fill="#111" stroke="#111" stroke-width="0.6">OFFICE</text>
<rect x="433.96" y="752.79" width="47.3" height="17.6" fill="#fff" stroke="#111" stroke-width="1.9" />
<text x="448.31" y="767.18" font-size="14.97" textLength="19.8" lengthAdjust="spacingAndGlyphs" font-weight="normal" fill="#111" stroke="#111" stroke-width="0.6">101</text>
<text x="205.03" y="439.44" font-size="16.13" textLength="91.5" lengthAdjust="spacingAndGlyphs" font-weight="normal" fill="#111" stroke="#111" stroke-width="0.6">OPEN  OFFICE</text>
<rect x="227.08" y="445.24" width="47.6" height="17.4" fill="#fff" stroke="#111" stroke-width="1.9" />
<text x="238.44" y="459.24" font-size="16.13" textLength="23.9" lengthAdjust="spacingAndGlyphs" font-weight="normal" fill="#111" stroke="#111" stroke-width="0.6">100</text>
<text x="183.24" y="323.27" font-size="15.26" textLength="110.3" lengthAdjust="spacingAndGlyphs" font-weight="normal" fill="#111" stroke="#111" stroke-width="0.6">REFER TO FINISH</text>
<text x="183.42" y="341.47" font-size="15.41" textLength="108.4" lengthAdjust="spacingAndGlyphs" font-weight="normal" fill="#111" stroke="#111" stroke-width="0.6">LEGEND FOR ALL</text>
<text x="183.61" y="359.94" font-size="15.41" textLength="126.1" lengthAdjust="spacingAndGlyphs" font-weight="normal" fill="#111" stroke="#111" stroke-width="0.6">INTERIOR FINISHES,</text>
<text x="183.8" y="378.14" font-size="15.26" textLength="53.6" lengthAdjust="spacingAndGlyphs" font-weight="normal" fill="#111" stroke="#111" stroke-width="0.6">TYPICAL.</text>
<ellipse cx="254.61" cy="214.32" rx="22.2" ry="12.6" fill="#fff" stroke="#111" stroke-width="1.9" />
<text x="242.87" y="219.62" font-size="15.41" textLength="23.6" lengthAdjust="spacingAndGlyphs" font-weight="normal" fill="#111" stroke="#111" stroke-width="0.6">106</text>
<ellipse cx="355.55" cy="314.65" rx="21.5" ry="12.4" fill="#fff" stroke="#111" stroke-width="1.9" />
<text x="343.91" y="319.95" font-size="15.41" textLength="23.4" lengthAdjust="spacingAndGlyphs" font-weight="normal" fill="#111" stroke="#111" stroke-width="0.6">104</text>
<ellipse cx="355.95" cy="372.65" rx="21.3" ry="12.3" fill="#fff" stroke="#111" stroke-width="1.9" />
<text x="344.3" y="377.95" font-size="15.41" textLength="23.4" lengthAdjust="spacingAndGlyphs" font-weight="normal" fill="#111" stroke="#111" stroke-width="0.6">103</text>
<ellipse cx="354.93" cy="642.66" rx="21.5" ry="12.3" fill="#fff" stroke="#111" stroke-width="1.9" />
<text x="343.28" y="647.96" font-size="15.41" textLength="23.4" lengthAdjust="spacingAndGlyphs" font-weight="normal" fill="#111" stroke="#111" stroke-width="0.6">102</text>
<ellipse cx="375.59" cy="697.31" rx="21.5" ry="12.3" fill="#fff" stroke="#111" stroke-width="1.9" />
<text x="363.95" y="702.61" font-size="15.41" textLength="23.4" lengthAdjust="spacingAndGlyphs" font-weight="normal" fill="#111" stroke="#111" stroke-width="0.6">101</text>
<ellipse cx="303.59" cy="833.2" rx="22.4" ry="12.6" fill="#fff" stroke="#111" stroke-width="1.9" />
<text x="286.79" y="838.5" font-size="15.41" textLength="33.7" lengthAdjust="spacingAndGlyphs" font-weight="normal" fill="#111" stroke="#111" stroke-width="0.6">E100</text>
<text x="268.89" y="949.26" font-size="15.41" textLength="29.8" lengthAdjust="spacingAndGlyphs" font-weight="normal" fill="#111" stroke="#111" stroke-width="0.6">EXIT/</text>
<text x="269.06" y="966.21" font-size="15.41" textLength="70.6" lengthAdjust="spacingAndGlyphs" font-weight="normal" fill="#111" stroke="#111" stroke-width="0.6">ENTRANCE</text>
<text transform="translate(374.54,925.01) rotate(90)" x="0" y="0" font-size="17.73" textLength="54.8" lengthAdjust="spacingAndGlyphs" fill="#111" stroke="#111" stroke-width="0.6">CENTER</text>
<text transform="translate(356.78,890.76) rotate(90)" x="0" y="0" font-size="16.86" textLength="18" lengthAdjust="spacingAndGlyphs" fill="#111" stroke="#111" stroke-width="0.6">ON</text>
<text transform="translate(357.09,920.46) rotate(90)" x="0" y="0" font-size="16.86" textLength="59.4" lengthAdjust="spacingAndGlyphs" fill="#111" stroke="#111" stroke-width="0.6">MULLION</text>
</g>
<text x="0" y="11.6" font-size="6.2" fill="#8a8a8a" textLength="15.4" lengthAdjust="spacingAndGlyphs">&#169;2024</text>
<text x="16" y="11.3" font-size="9.4" font-weight="bold" fill="#2d5c9e" stroke="#2d5c9e" stroke-width="0.5" textLength="19.2" lengthAdjust="spacingAndGlyphs">BAY</text>
<text x="35.8" y="11.3" font-size="9.4" font-weight="bold" fill="#b4b4b4" stroke="#b4b4b4" stroke-width="0.4" textLength="27" lengthAdjust="spacingAndGlyphs">EAST</text>
<rect x="16" y="13.6" width="46.5" height="1.8" fill="#8a93a0"/>
</svg>
</body></html>
